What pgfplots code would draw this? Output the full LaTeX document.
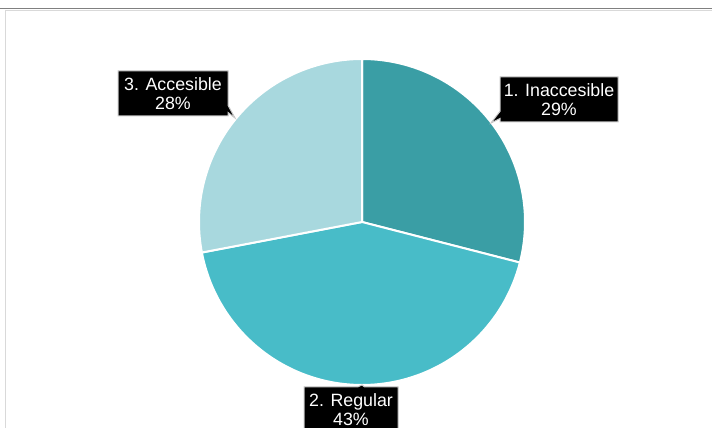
\documentclass[border=0pt]{standalone}
\usepackage{pgfplots}
\pgfplotsset{compat=1.18}
\usepackage{pgfplotstable}
\usepackage{fontspec}
\setmainfont{Liberation Sans}
\usetikzlibrary{shapes.callouts}
\definecolor{cA}{HTML}{3A9EA5}
\definecolor{cB}{HTML}{48BCC8}
\definecolor{cC}{HTML}{A8D8DE}
\definecolor{frameD}{HTML}{808080}
\definecolor{frameL}{HTML}{D9D9D9}
\definecolor{boxB}{HTML}{C8C8C8}

\pgfplotstableread[col sep=comma]{
label,value
1. Inaccesible,29
2. Regular,43
3. Accesible,28
}\piedata

\pgfplotstablegetelem{0}{value}\of\piedata \edef\vA{\pgfplotsretval}
\pgfplotstablegetelem{1}{value}\of\piedata \edef\vB{\pgfplotsretval}
\pgfplotstablegetelem{2}{value}\of\piedata \edef\vC{\pgfplotsretval}
\pgfmathsetmacro\aA{90}
\pgfmathsetmacro\aB{\aA-3.6*\vA}
\pgfmathsetmacro\aC{\aB-3.6*\vB}
\pgfmathsetmacro\aD{\aC-3.6*\vC}
\def\cx{362}
\def\cy{206}
\def\rr{163}

\tikzset{pielabel/.style={rectangle callout, fill=black, draw=boxB, line width=1bp,
  text=white, minimum height=45bp, inner sep=0pt, align=center,
  font=\fontsize{17.8bp}{18.8bp}\selectfont}}

\begin{document}
\begin{tikzpicture}
\useasboundingbox (0,0) rectangle (712bp,428bp);
\clip (0,0) rectangle (712bp,428bp);
\begin{axis}[
  at={(0,0)}, anchor=south west,
  scale only axis, width=712bp, height=428bp,
  xmin=0, xmax=712, ymin=0, ymax=428,
  axis lines=none, clip=false,
]
% frame
\draw[frameD, line width=1.2bp] (axis cs:0,419.5) -- (axis cs:712,419.5);
\draw[frameL, line width=1.5bp] (axis cs:5,417.5) -- (axis cs:712,417.5);
\draw[frameL, line width=1.5bp] (axis cs:5.5,418) -- (axis cs:5.5,0);
% slices
\addplot[fill=cA, draw=white, line width=2bp, domain=\aB:\aA, samples=90, variable=\t]
  ({\cx+\rr*cos(\t)},{\cy+\rr*sin(\t)}) -- (axis cs:\cx,\cy) -- cycle;
\addplot[fill=cB, draw=white, line width=2bp, domain=\aC:\aB, samples=120, variable=\t]
  ({\cx+\rr*cos(\t)},{\cy+\rr*sin(\t)}) -- (axis cs:\cx,\cy) -- cycle;
\addplot[fill=cC, draw=white, line width=2bp, domain=\aD:\aC, samples=90, variable=\t]
  ({\cx+\rr*cos(\t)},{\cy+\rr*sin(\t)}) -- (axis cs:\cx,\cy) -- cycle;
% labels
\node[pielabel, minimum width=118bp, callout absolute pointer={(axis cs:491,305)}]
  at (axis cs:559,328.5) {1. Inaccesible\\\vA\%};
\node[pielabel, minimum width=94bp, callout absolute pointer={(axis cs:362,43)}]
  at (axis cs:351,18.5) {2. Regular\\\vB\%};
\node[pielabel, minimum width=110bp, callout absolute pointer={(axis cs:235,310)}]
  at (axis cs:173,334.5) {3. Accesible\\\vC\%};
\end{axis}
\end{tikzpicture}
\end{document}
